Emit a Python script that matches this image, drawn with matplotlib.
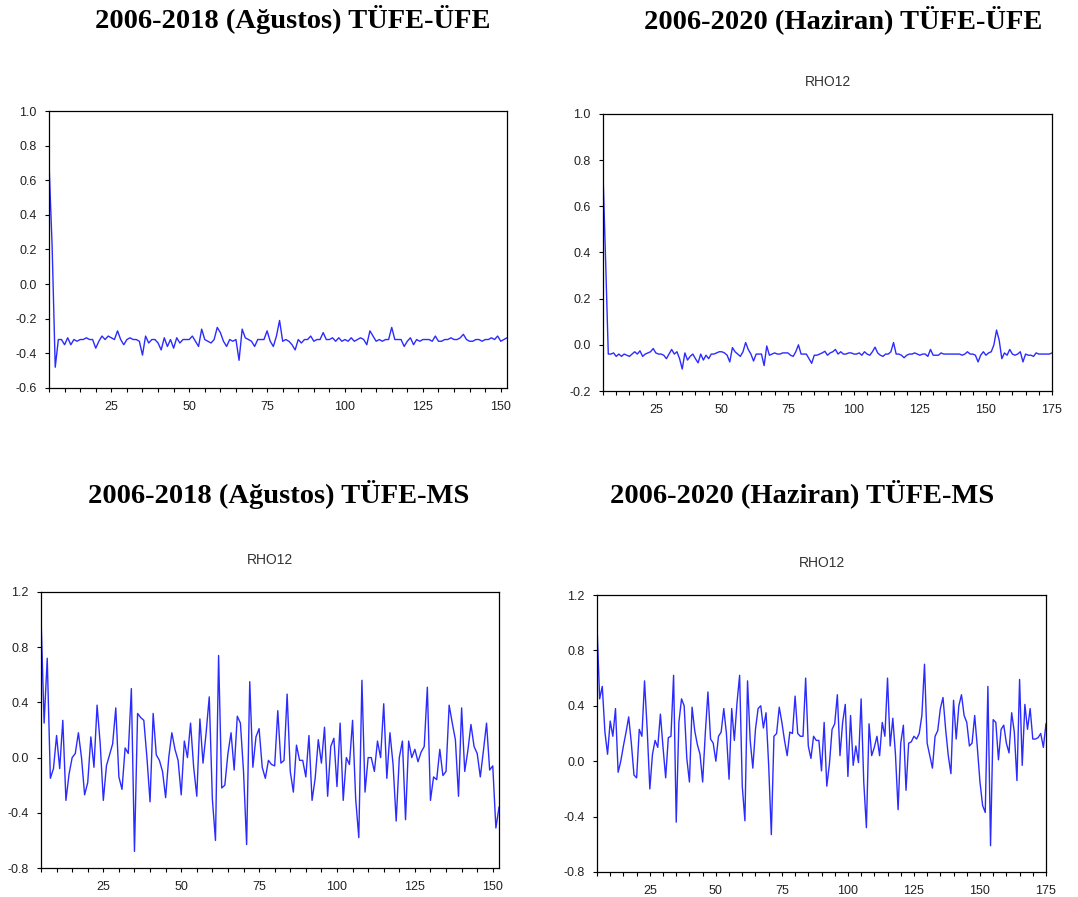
import matplotlib.pyplot as plt
import numpy as np

firstObs = 5

rhoUfe2018 = [
    0.70, 0.22, -0.48, -0.32, -0.32, -0.35, -0.31, -0.35, -0.32, -0.33,
    -0.32, -0.32, -0.31, -0.32, -0.32, -0.37, -0.33, -0.30, -0.32, -0.30,
    -0.31, -0.32, -0.27, -0.32, -0.35, -0.32, -0.31, -0.32, -0.32, -0.33,
    -0.41, -0.30, -0.34, -0.32, -0.32, -0.34, -0.38, -0.31, -0.36, -0.32,
    -0.37, -0.31, -0.34, -0.32, -0.32, -0.32, -0.30, -0.33, -0.36, -0.26,
    -0.32, -0.33, -0.34, -0.32, -0.25, -0.28, -0.33, -0.36, -0.32, -0.33,
    -0.32, -0.44, -0.26, -0.31, -0.32, -0.33, -0.36, -0.32, -0.32, -0.32,
    -0.27, -0.33, -0.36, -0.30, -0.21, -0.33, -0.32, -0.33, -0.35, -0.38,
    -0.32, -0.34, -0.32, -0.32, -0.30, -0.33, -0.32, -0.32, -0.28, -0.32,
    -0.32, -0.31, -0.33, -0.31, -0.33, -0.32, -0.33, -0.31, -0.33, -0.32,
    -0.31, -0.32, -0.35, -0.27, -0.30, -0.33, -0.32, -0.33, -0.32, -0.32,
    -0.25, -0.32, -0.32, -0.32, -0.36, -0.33, -0.31, -0.35, -0.32, -0.33,
    -0.32, -0.32, -0.32, -0.33, -0.30, -0.33, -0.33, -0.32, -0.32, -0.31,
    -0.32, -0.32, -0.31, -0.29, -0.32, -0.33, -0.33, -0.32, -0.32, -0.33,
    -0.32, -0.32, -0.31, -0.32, -0.30, -0.33, -0.32, -0.31]

rhoUfe2020 = [
    0.74, 0.36, -0.04, -0.04, -0.035, -0.05, -0.04, -0.05, -0.04, -0.045,
    -0.05, -0.04, -0.03, -0.04, -0.026, -0.05, -0.04, -0.035, -0.03, -0.016,
    -0.035, -0.04, -0.04, -0.045, -0.06, -0.04, -0.02, -0.04, -0.03, -0.06,
    -0.105, -0.035, -0.066, -0.05, -0.04, -0.06, -0.078, -0.04, -0.066, -0.045,
    -0.06, -0.04, -0.04, -0.035, -0.03, -0.03, -0.035, -0.045, -0.074, -0.012,
    -0.03, -0.04, -0.05, -0.03, 0.01, -0.02, -0.04, -0.07, -0.04, -0.04,
    -0.04, -0.09, -0.005, -0.045, -0.04, -0.035, -0.04, -0.04, -0.035, -0.035,
    -0.035, -0.045, -0.05, -0.03, 0.0, -0.04, -0.04, -0.04, -0.06, -0.08,
    -0.045, -0.045, -0.04, -0.035, -0.028, -0.045, -0.035, -0.03, -0.02, -0.04,
    -0.03, -0.04, -0.04, -0.035, -0.035, -0.04, -0.04, -0.035, -0.045, -0.03,
    -0.04, -0.045, -0.03, -0.01, -0.035, -0.045, -0.05, -0.04, -0.04, -0.03,
    0.01, -0.04, -0.04, -0.045, -0.056, -0.045, -0.04, -0.04, -0.035, -0.04,
    -0.045, -0.04, -0.04, -0.05, -0.02, -0.045, -0.045, -0.045, -0.035, -0.04,
    -0.04, -0.04, -0.04, -0.04, -0.04, -0.04, -0.045, -0.04, -0.03, -0.04,
    -0.04, -0.045, -0.074, -0.045, -0.03, -0.045, -0.035, -0.03, 0.0, 0.064,
    0.02, -0.06, -0.035, -0.045, -0.02, -0.04, -0.045, -0.04, -0.03, -0.074,
    -0.04, -0.045, -0.045, -0.05, -0.035, -0.04, -0.04, -0.04, -0.04, -0.04,
    -0.035]

rhoMs2018 = [
    1.02, 0.25, 0.72, -0.15, -0.08, 0.16, -0.08, 0.27, -0.31, -0.12,
    0.0, 0.03, 0.18, 0.0, -0.27, -0.18, 0.15, -0.07, 0.38, 0.10,
    -0.31, -0.06, 0.02, 0.10, 0.36, -0.14, -0.23, 0.07, 0.03, 0.50,
    -0.68, 0.32, 0.29, 0.27, 0.0, -0.32, 0.32, 0.02, -0.02, -0.10,
    -0.29, 0.0, 0.18, 0.06, -0.02, -0.27, 0.12, 0.0, 0.25, -0.07,
    -0.28, 0.28, -0.04, 0.18, 0.44, -0.30, -0.60, 0.74, -0.22, -0.20,
    0.03, 0.18, -0.09, 0.30, 0.25, -0.10, -0.63, 0.55, -0.07, 0.15,
    0.21, -0.07, -0.15, -0.02, -0.05, -0.06, 0.34, -0.04, -0.02, 0.46,
    -0.10, -0.25, 0.09, -0.02, -0.02, -0.14, 0.16, -0.31, -0.15, 0.13,
    -0.04, 0.22, -0.28, 0.08, 0.14, -0.21, 0.25, -0.31, 0.0, -0.05,
    0.27, -0.30, -0.58, 0.56, -0.25, 0.0, 0.0, -0.10, 0.12, 0.0,
    0.39, -0.15, 0.18, -0.05, -0.46, 0.0, 0.12, -0.45, 0.12, 0.0,
    0.06, -0.03, 0.04, 0.08, 0.51, -0.31, -0.14, -0.16, 0.06, -0.13,
    -0.10, 0.38, 0.25, 0.13, -0.28, 0.36, -0.10, 0.05, 0.24, 0.08,
    0.03, -0.14, 0.05, 0.25, -0.09, -0.06, -0.51, -0.36]

rhoMs2020 = [
    0.98, 0.45, 0.54, 0.21, 0.05, 0.29, 0.18, 0.38, -0.08, 0.0,
    0.11, 0.21, 0.32, 0.13, -0.10, -0.12, 0.23, 0.18, 0.58, 0.23,
    -0.20, 0.05, 0.15, 0.10, 0.34, 0.10, -0.12, 0.17, 0.18, 0.62,
    -0.44, 0.28, 0.45, 0.40, 0.02, -0.15, 0.39, 0.22, 0.12, 0.05,
    -0.15, 0.20, 0.50, 0.16, 0.13, 0.0, 0.18, 0.21, 0.38, 0.20,
    -0.13, 0.38, 0.15, 0.42, 0.62, -0.18, -0.43, 0.58, 0.15, -0.05,
    0.23, 0.38, 0.40, 0.24, 0.35, -0.03, -0.53, 0.18, 0.20, 0.39,
    0.28, 0.15, 0.04, 0.21, 0.20, 0.47, 0.20, 0.18, 0.18, 0.60,
    0.11, 0.02, 0.18, 0.15, 0.15, -0.07, 0.28, -0.18, -0.02, 0.23,
    0.27, 0.48, 0.04, 0.28, 0.41, -0.11, 0.33, -0.03, 0.11, -0.01,
    0.45, -0.15, -0.48, 0.27, 0.04, 0.10, 0.18, 0.04, 0.28, 0.18,
    0.60, 0.11, 0.31, 0.05, -0.35, 0.13, 0.26, -0.21, 0.13, 0.14,
    0.18, 0.16, 0.20, 0.33, 0.70, 0.13, 0.04, -0.05, 0.18, 0.22,
    0.38, 0.46, 0.23, 0.04, -0.09, 0.44, 0.16, 0.40, 0.48, 0.33,
    0.28, 0.11, 0.13, 0.33, 0.10, -0.15, -0.32, -0.37, 0.54, -0.61,
    0.30, 0.28, 0.01, 0.23, 0.26, 0.13, 0.06, 0.35, 0.21, -0.14,
    0.59, -0.03, 0.41, 0.23, 0.38, 0.16, 0.16, 0.17, 0.20, 0.10,
    0.27]

panelTitles = ['2006-2018 (Ağustos) TÜFE-ÜFE', '2006-2020 (Haziran) TÜFE-ÜFE',
               '2006-2018 (Ağustos) TÜFE-MS', '2006-2020 (Haziran) TÜFE-MS']
seriesName = 'RHO12'

figWidth = 1078
figHeight = 897
lineColour = '#2b2bff'


def px_rect(left, right, top, bottom):
    """Convert a pixel box of the image into a figure fraction rectangle."""
    return [left / figWidth, 1 - bottom / figHeight, (right - left) / figWidth, (bottom - top) / figHeight]


def draw_panel(fig, rect, values, xMax, yLim, yStep, showName):
    """Draw one EViews style line panel."""
    axes = fig.add_axes(rect)
    xValues = np.arange(firstObs, firstObs + len(values))
    axes.plot(xValues, values, color=lineColour, linewidth=1.0)

    axes.set_xlim(firstObs, xMax)
    axes.set_ylim(yLim[0], yLim[1])
    axes.set_xticks(np.arange(25, xMax + 1, 25))
    axes.set_xticks(np.arange(firstObs, xMax + 1, 5), minor=True)
    axes.set_yticks(np.arange(yLim[0], yLim[1] + yStep / 2, yStep))
    axes.yaxis.set_major_formatter(plt.FormatStrFormatter('%.1f'))

    axes.tick_params(axis='both', which='both', direction='out', top=False, right=False,
                     labelsize=9, labelcolor='#222222', width=0.8, length=3, pad=6)
    for spine in axes.spines.values():
        spine.set_linewidth(0.9)
        spine.set_color('black')

    if showName:
        axes.set_title(seriesName, fontsize=10, color='#333333', pad=20, family='Liberation Sans')
    return axes


def main():
    plt.rcParams['font.family'] = ['Liberation Sans', 'DejaVu Sans']
    fig = plt.figure(figsize=(figWidth / 100, figHeight / 100), dpi=100)

    # Top row: TÜFE-ÜFE, bottom row: TÜFE-MS.
    draw_panel(fig, px_rect(49, 507, 111, 388), rhoUfe2018, 152, (-0.6, 1.0), 0.2, False)
    draw_panel(fig, px_rect(603, 1052, 114, 391), rhoUfe2020, 175, (-0.2, 1.0), 0.2, True)
    draw_panel(fig, px_rect(41, 499, 592, 868), rhoMs2018, 152, (-0.8, 1.2), 0.4, True)
    draw_panel(fig, px_rect(597, 1046, 595, 872), rhoMs2020, 175, (-0.8, 1.2), 0.4, True)

    # Bold serif headings above each panel.
    headingPos = [(293, 20), (843, 20), (279, 494), (802, 494)]
    for title, (hx, hy) in zip(panelTitles, headingPos):
        fig.text(hx / figWidth, 1 - hy / figHeight, title, ha='center', va='center',
                 fontsize=20.5, fontweight='bold', family='Liberation Serif')

    plt.savefig('out.png', dpi=100)


if __name__ == '__main__':
    main()
